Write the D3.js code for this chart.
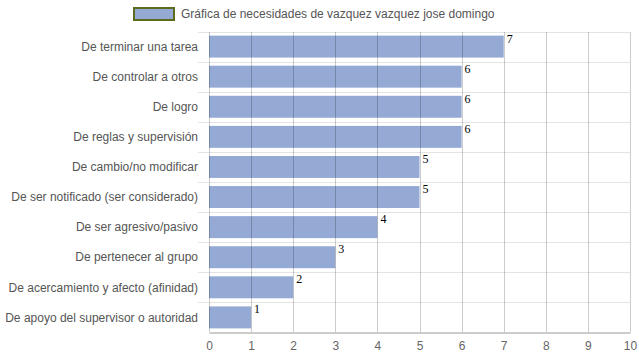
<!DOCTYPE html>
<html>
<head>
<meta charset="utf-8">
<script src="https://cdn.jsdelivr.net/npm/d3@7"></script>
<style>
  body { margin: 0; background: #fff; }
  text { font-family: Arial, "Liberation Sans", sans-serif; }
</style>
</head>
<body>
<div id="chart"></div>
<script>
var categories = ["De terminar una tarea", "De controlar a otros", "De logro", "De reglas y supervisión",
    "De cambio/no modificar", "De ser notificado (ser considerado)", "De ser agresivo/pasivo",
    "De pertenecer al grupo", "De acercamiento y afecto (afinidad)", "De apoyo del supervisor o autoridad"];
var values = [7, 6, 6, 6, 5, 5, 4, 3, 2, 1];
var xTicks = [0, 1, 2, 3, 4, 5, 6, 7, 8, 9, 10];
var seriesName = "Gráfica de necesidades de vazquez vazquez jose domingo";

var width = 639, height = 360;
var margin = { top: 32, right: 9, bottom: 28, left: 209 };

var svg = d3.select("#chart").append("svg")
    .attr("width", width)
    .attr("height", height);

var x = d3.scaleLinear().domain([0, 10]).range([margin.left, width - margin.right]);
var y = d3.scaleBand().domain(categories).range([margin.top, height - margin.bottom]).paddingInner(0.27).paddingOuter(0.12);

// horizontal row separators
var rowLines = d3.range(categories.length).map(function(i) { return margin.top + i * (height - margin.top - margin.bottom) / categories.length; });
svg.append("g").selectAll("line").data(rowLines).enter()
    .append("line")
    .attr("x1", margin.left - 11).attr("x2", x(10))
    .attr("y1", function(d) { return Math.round(d) + 0.5; })
    .attr("y2", function(d) { return Math.round(d) + 0.5; })
    .attr("stroke", "#e4e4e4");

// bars
svg.append("g").selectAll("rect").data(values).enter()
    .append("rect")
    .attr("x", x(0))
    .attr("y", function(d, i) { return y(categories[i]); })
    .attr("width", function(d) { return x(d) - x(0); })
    .attr("height", y.bandwidth())
    .attr("fill", "#94aad5");

// vertical grid on top of bars
svg.append("g").selectAll("line").data(xTicks).enter()
    .append("line")
    .attr("x1", function(d) { return Math.round(x(d)) + 0.5; })
    .attr("x2", function(d) { return Math.round(x(d)) + 0.5; })
    .attr("y1", margin.top)
    .attr("y2", height - margin.bottom)
    .attr("stroke", "rgba(0,0,0,0.2)");

// bottom axis
var xAxis = svg.append("g")
    .attr("transform", "translate(0," + (height - margin.bottom + 0.5) + ")")
    .call(d3.axisBottom(x).tickValues(xTicks).tickSize(0).tickPadding(9));
xAxis.select(".domain").attr("stroke", "#999");
xAxis.selectAll("text").attr("fill", "#666").style("font-size", "12px").style("font-family", "Arial, 'Liberation Sans', sans-serif");

// category labels
svg.append("g").selectAll("text").data(categories).enter()
    .append("text")
    .attr("x", margin.left - 11)
    .attr("y", function(d) { return y(d) + y.bandwidth() / 2; })
    .attr("dy", "0.35em")
    .attr("text-anchor", "end")
    .attr("fill", "#555")
    .style("font-size", "12px")
    .text(function(d) { return d; });

// value labels
svg.append("g").selectAll("text").data(values).enter()
    .append("text")
    .attr("x", function(d) { return x(d) + 3; })
    .attr("y", function(d, i) { return y(categories[i]) + 7; })
    .attr("fill", "#000")
    .style("font-family", "'Liberation Serif', 'Times New Roman', serif")
    .style("font-size", "12px")
    .text(function(d) { return d; });

// legend
var legend = svg.append("g");
legend.append("rect")
    .attr("x", 134).attr("y", 8)
    .attr("width", 40).attr("height", 12)
    .attr("fill", "#94aad5")
    .attr("stroke", "#5d6b1e")
    .attr("stroke-width", 2);
legend.append("text")
    .attr("x", 181).attr("y", 14)
    .attr("dy", "0.35em")
    .attr("fill", "#555")
    .style("font-size", "12px")
    .text(seriesName);
</script>
</body>
</html>
